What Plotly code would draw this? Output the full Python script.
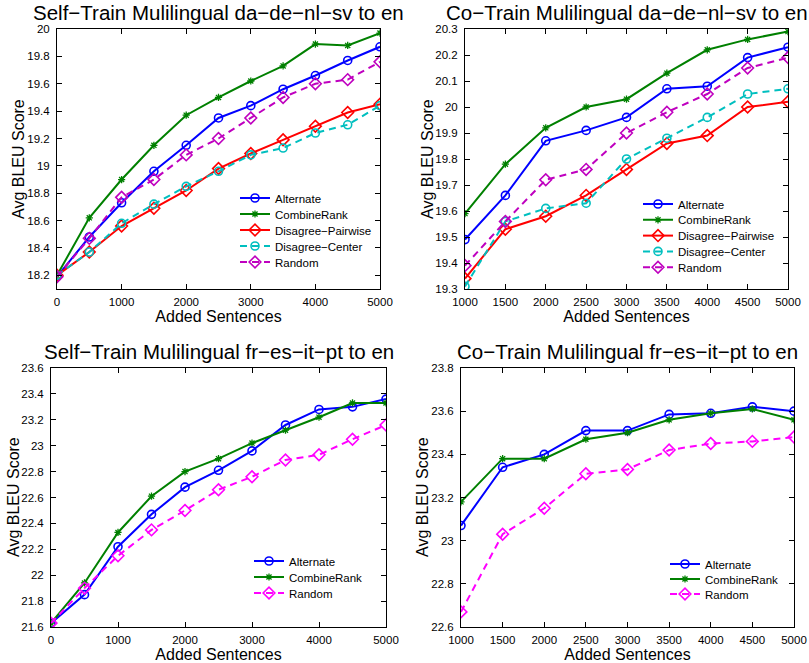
import plotly.graph_objects as go

W, H = 809, 663
FONT = "Liberation Sans, Arial, Helvetica, sans-serif"

# ---------------- data ----------------
x_self = [0, 500, 1000, 1500, 2000, 2500, 3000, 3500, 4000, 4500, 5000]
x_co = [1000, 1500, 2000, 2500, 3000, 3500, 4000, 4500, 5000]

# Self-Train da-de-nl-sv
st1_alternate = [18.19, 18.48, 18.73, 18.96, 19.15, 19.35, 19.44, 19.56, 19.66, 19.77, 19.87]
st1_combine = [18.20, 18.62, 18.90, 19.15, 19.37, 19.50, 19.62, 19.73, 19.89, 19.88, 19.97]
st1_pairwise = [18.20, 18.37, 18.56, 18.69, 18.82, 18.98, 19.09, 19.19, 19.29, 19.39, 19.45]
st1_center = [18.20, 18.37, 18.58, 18.72, 18.85, 18.96, 19.08, 19.13, 19.24, 19.30, 19.44]
st1_random = [18.19, 18.47, 18.77, 18.90, 19.08, 19.20, 19.35, 19.50, 19.60, 19.63, 19.76]

# Co-Train da-de-nl-sv
ct1_alternate = [19.49, 19.66, 19.87, 19.91, 19.96, 20.07, 20.08, 20.19, 20.23]
ct1_combine = [19.59, 19.78, 19.92, 20.00, 20.03, 20.13, 20.22, 20.26, 20.29]
ct1_pairwise = [19.34, 19.53, 19.58, 19.66, 19.76, 19.86, 19.89, 20.00, 20.02]
ct1_center = [19.31, 19.56, 19.61, 19.63, 19.80, 19.88, 19.96, 20.05, 20.07]
ct1_random = [19.39, 19.56, 19.72, 19.76, 19.90, 19.98, 20.05, 20.15, 20.19]

# Self-Train fr-es-it-pt
st2_alternate = [21.63, 21.85, 22.22, 22.47, 22.68, 22.81, 22.96, 23.16, 23.28, 23.30, 23.36]
st2_combine = [21.63, 21.94, 22.33, 22.61, 22.80, 22.90, 23.02, 23.12, 23.22, 23.33, 23.33]
st2_random = [21.63, 21.90, 22.15, 22.35, 22.50, 22.66, 22.76, 22.89, 22.93, 23.05, 23.16]

# Co-Train fr-es-it-pt
ct2_alternate = [23.07, 23.34, 23.40, 23.51, 23.51, 23.585, 23.59, 23.62, 23.60]
ct2_combine = [23.18, 23.38, 23.38, 23.47, 23.50, 23.56, 23.59, 23.61, 23.56]
ct2_random = [22.67, 23.03, 23.15, 23.31, 23.33, 23.42, 23.45, 23.46, 23.48]

titles = [
    "Self\u2212Train Mulilingual da\u2212de\u2212nl\u2212sv to en",
    "Co\u2212Train Mulilingual da\u2212de\u2212nl\u2212sv to en",
    "Self\u2212Train Mulilingual fr\u2212es\u2212it\u2212pt to en",
    "Co\u2212Train Mulilingual fr\u2212es\u2212it\u2212pt to en",
]
names = ["Alternate", "CombineRank", "Disagree\u2212Pairwise", "Disagree\u2212Center", "Random"]
x_title = "Added Sentences"
y_title = "Avg BLEU Score"

# ---------------- styles ----------------
BLUE, GREEN, RED, CYAN, PURPLE, MAGENTA = "#0000FF", "#008000", "#FF0000", "#00BFBF", "#BF00BF", "#FF00FF"
DASH = "7px,5px"

def style(kind, rand_color=PURPLE):
    if kind == 0:
        return dict(line=dict(color=BLUE, width=2), marker=dict(symbol="circle-open", size=8, color=BLUE, line=dict(width=1.6)))
    if kind == 1:
        return dict(line=dict(color=GREEN, width=2), marker=dict(symbol="asterisk-open", size=6, color=GREEN, line=dict(width=1.3)))
    if kind == 2:
        return dict(line=dict(color=RED, width=2), marker=dict(symbol="diamond-open", size=9, color=RED, line=dict(width=1.6)))
    if kind == 3:
        return dict(line=dict(color=CYAN, width=2, dash=DASH), marker=dict(symbol="circle-open", size=8, color=CYAN, line=dict(width=1.6)))
    return dict(line=dict(color=rand_color, width=2, dash=DASH), marker=dict(symbol="diamond-open", size=9, color=rand_color, line=dict(width=1.6)))

def px(x):
    return x / W

def py(y):
    return 1 - y / H

fig = go.Figure()

panels = [
    (x_self, [st1_alternate, st1_combine, st1_pairwise, st1_center, st1_random], [0, 1, 2, 3, 4], PURPLE),
    (x_co, [ct1_alternate, ct1_combine, ct1_pairwise, ct1_center, ct1_random], [0, 1, 2, 3, 4], PURPLE),
    (x_self, [st2_alternate, st2_combine, st2_random], [0, 1, 4], MAGENTA),
    (x_co, [ct2_alternate, ct2_combine, ct2_random], [0, 1, 4], MAGENTA),
]

# pixel boxes in reference image (left, right, top, bottom)
boxes = [(57, 380, 29, 289), (465, 788, 29, 289), (51, 386, 368, 627), (461, 794, 368, 627)]
yranges = [(18.1, 20.0, 18.2, 0.2), (19.3, 20.3, 19.3, 0.1), (21.6, 23.6, 21.6, 0.2), (22.6, 23.8, 22.6, 0.2)]
xranges = [(0, 5000, 1000), (1000, 5000, 500), (0, 5000, 1000), (1000, 5000, 500)]
# legend: left x of legend box, centre y of first entry, entry spacing
legend_pos = [(235, 198, 16), (638, 204, 15.8), (249, 561, 16), (665, 564, 15)]
ytitle_pos = [(18, 159), (427, 159), (13, 497), (422, 497)]

leg_n = 0
for i, (xs, series, kinds, rc) in enumerate(panels):
    sfx = "" if i == 0 else str(i + 1)
    lx, ly, ldy = legend_pos[i]
    for j, (ys, k) in enumerate(zip(series, kinds)):
        leg_n += 1
        lname = "legend" if leg_n == 1 else "legend%d" % leg_n
        fig.add_trace(go.Scatter(x=xs, y=ys, mode="lines+markers", name=names[k],
                                 xaxis="x" + sfx, yaxis="y" + sfx, legend=lname,
                                 **style(k, rc)))
        fig.layout[lname] = dict(x=px(lx), y=py(ly + j * ldy), xanchor="left", yanchor="middle",
                                 bgcolor="rgba(0,0,0,0)", borderwidth=0,
                                 font=dict(family=FONT, size=11.5, color="black"))
    l, r, t, b = boxes[i]
    y0, y1, yt0, ydt = yranges[i]
    x0, x1, xdt = xranges[i]
    common = dict(showline=True, linecolor="black", linewidth=1, mirror="ticks", ticks="inside",
                  ticklen=5, tickcolor="black", showgrid=False, zeroline=False, automargin=False,
                  tickfont=dict(family=FONT, size=11.5, color="black"))
    fig.layout["xaxis" + sfx] = dict(domain=[px(l), px(r)], range=[x0, x1], dtick=xdt, tick0=x0,
                                     anchor="y" + sfx, ticklabelstandoff=2,
                                     title=dict(text=x_title, font=dict(family=FONT, size=16, color="black"), standoff=0),
                                     **common)
    fig.layout["yaxis" + sfx] = dict(domain=[py(b), py(t)], range=[y0, y1], dtick=ydt, tick0=yt0,
                                     anchor="x" + sfx, ticklabelstandoff=4, **common)
    fig.add_annotation(text=titles[i], x=px((l + r) / 2), y=py(t - 17), xref="paper", yref="paper",
                       showarrow=False, xanchor="center", yanchor="middle",
                       font=dict(family=FONT, size=20.5, color="black"))
    tx, ty = ytitle_pos[i]
    fig.add_annotation(text=y_title, x=px(tx), y=py(ty), xref="paper", yref="paper", textangle=-90,
                       showarrow=False, xanchor="center", yanchor="middle",
                       font=dict(family=FONT, size=16, color="black"))

fig.update_layout(width=W, height=H, margin=dict(l=0, r=0, t=0, b=0),
                  paper_bgcolor="white", plot_bgcolor="white", showlegend=True)

fig.write_html("out.html", config={"displayModeBar": False},
               post_script="document.body.style.margin='0px';")
